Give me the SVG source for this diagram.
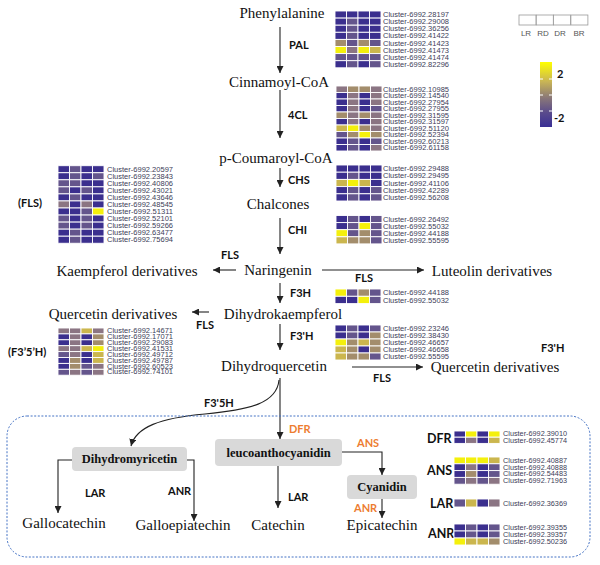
<svg xmlns="http://www.w3.org/2000/svg" width="600" height="565" viewBox="0 0 600 565">
<defs>
<style>
.m{font-family:"Liberation Serif","Times New Roman",Times,"DejaVu Serif",serif;font-size:15px;fill:#111;text-anchor:middle}
.e{font-family:Lato,"Liberation Sans",sans-serif;font-size:11px;font-weight:bold;fill:#111}
.e2{font-family:Lato,"Liberation Sans",sans-serif;font-size:12.5px;font-weight:bold;fill:#111}
.o{fill:#ed7d31}
.b{font-family:"Liberation Serif","Times New Roman",Times,"DejaVu Serif",serif;font-size:12.5px;font-weight:bold;fill:#111;text-anchor:middle}
.c{font-family:"Liberation Sans",Arial,sans-serif;font-size:7px;fill:#3d3d58}
.hm rect{stroke:#fff;stroke-width:0.9}
.D{fill:#3b2f8e}.P{fill:#64558c}.M{fill:#8b7583}.T{fill:#a38d6c}.O{fill:#cbb64e}.Y{fill:#f4f00c}
.ln{fill:none;stroke:#222;stroke-width:1.1}
.bx{fill:#d9d9d9}
.lg{font-family:"Liberation Sans",Arial,sans-serif;font-size:8px;fill:#555;text-anchor:middle}
</style>
<marker id="ah" viewBox="0 0 10 10" refX="10" refY="5" markerWidth="7" markerHeight="7" orient="auto" markerUnits="userSpaceOnUse"><path d="M0,0 L10,5 L0,10 z" fill="#222"/></marker>
<linearGradient id="cb" x1="0" y1="0" x2="0" y2="1">
<stop offset="0" stop-color="#ffff00"/><stop offset="0.3" stop-color="#c9b555"/><stop offset="0.55" stop-color="#8a7878"/><stop offset="0.78" stop-color="#5a4b8c"/><stop offset="1" stop-color="#3a2f95"/>
</linearGradient>
</defs>
<rect width="600" height="565" fill="#fff"/>

<!-- Legend -->
<g id="legend">
<rect x="519" y="15" width="17" height="10" fill="#fff" stroke="#999" stroke-width="0.8"/>
<rect x="536.3" y="15" width="17" height="10" fill="#fff" stroke="#999" stroke-width="0.8"/>
<rect x="553.6" y="15" width="17" height="10" fill="#fff" stroke="#999" stroke-width="0.8"/>
<rect x="570.9" y="15" width="17" height="10" fill="#fff" stroke="#999" stroke-width="0.8"/>
<text class="lg" x="526" y="36">LR</text><text class="lg" x="543" y="36">RD</text><text class="lg" x="560" y="36">DR</text><text class="lg" x="579" y="36">BR</text>
<rect x="540" y="62" width="12" height="65" fill="url(#cb)"/>
<path d="M540 79h3M549 79h3M540 95h3M549 95h3M540 111h3M549 111h3" stroke="#fff" stroke-width="1"/>
<text x="557" y="78" font-family="Lato,'Liberation Sans',sans-serif" font-size="11" font-weight="bold" fill="#111">2</text>
<text x="554" y="122" font-family="Lato,'Liberation Sans',sans-serif" font-size="11" font-weight="bold" fill="#111">-2</text>
</g>

<!-- Connectors -->
<g id="connectors">
<line class="ln" x1="280" y1="27" x2="280" y2="73" marker-end="url(#ah)"/>
<line class="ln" x1="280" y1="90" x2="280" y2="138" marker-end="url(#ah)"/>
<line class="ln" x1="280" y1="168" x2="280" y2="187" marker-end="url(#ah)"/>
<line class="ln" x1="280" y1="218" x2="280" y2="254" marker-end="url(#ah)"/>
<line class="ln" x1="236" y1="270" x2="213" y2="270" marker-end="url(#ah)"/>
<line class="ln" x1="322" y1="270" x2="424" y2="270" marker-end="url(#ah)"/>
<line class="ln" x1="280" y1="283" x2="280" y2="303" marker-end="url(#ah)"/>
<line class="ln" x1="209" y1="312" x2="192" y2="312" marker-end="url(#ah)"/>
<line class="ln" x1="280" y1="324" x2="280" y2="350" marker-end="url(#ah)"/>
<line class="ln" x1="352" y1="367" x2="423" y2="367" stroke="#555" marker-end="url(#ah)"/>
<line class="ln" x1="280" y1="378" x2="280" y2="439" marker-end="url(#ah)"/>
<path class="ln" d="M279 380 C277 403,250 410,205 414 C160 418,136 427,131 446" marker-end="url(#ah)"/>
<path class="ln" d="M72 460 H58 V513" marker-end="url(#ah)"/>
<path class="ln" d="M187 460 H194 V521" marker-end="url(#ah)"/>
<line class="ln" x1="278" y1="466" x2="278" y2="508" marker-end="url(#ah)"/>
<path class="ln" d="M342 452 H382 V475" marker-end="url(#ah)"/>
<line class="ln" x1="382" y1="499" x2="382" y2="518" marker-end="url(#ah)"/>
<rect x="7" y="416" width="583" height="141" rx="20" fill="none" stroke="#4472c4" stroke-width="1" stroke-dasharray="2,1.6"/>
</g>

<!-- Enzyme labels -->
<g id="enzymes">
<text class="e" x="289" y="49">PAL</text>
<text class="e" x="288" y="119">4CL</text>
<text class="e" x="288" y="184">CHS</text>
<text class="e" x="288" y="234">CHI</text>
<text class="e" x="221" y="259">FLS</text>
<text class="e" x="355" y="282">FLS</text>
<text class="e" x="290" y="297">F3H</text>
<text class="e" x="196" y="329">FLS</text>
<text class="e" x="290" y="340">F3'H</text>
<text class="e" x="373" y="382">FLS</text>
<text class="e" x="541" y="352">F3'H</text>
<text class="e" x="18" y="207">(FLS)</text>
<text class="e" x="8" y="356">(F3’5’H)</text>
<text class="e" x="204" y="407">F3'5H</text>
<text class="e o" x="289" y="433">DFR</text>
<text class="e o" x="357" y="447">ANS</text>
<text class="e o" x="354" y="512">ANR</text>
<text class="e" x="85" y="497">LAR</text>
<text class="e" x="168" y="495">ANR</text>
<text class="e" x="288" y="501">LAR</text>
<text class="e2" x="427" y="443">DFR</text>
<text class="e2" x="427" y="475">ANS</text>
<text class="e2" x="430" y="508">LAR</text>
<text class="e2" x="428" y="538">ANR</text>
</g>

<!-- Compounds -->
<g id="phenylalanine"><text class="m" x="282" y="18">Phenylalanine</text></g>
<g id="cinnamoyl"><text class="m" x="279" y="87">Cinnamoyl-CoA</text></g>
<g id="coumaroyl"><text class="m" x="276" y="163">p-Coumaroyl-CoA</text></g>
<g id="chalcones"><text class="m" x="278" y="209">Chalcones</text></g>
<g id="naringenin"><text class="m" x="278" y="275">Naringenin</text></g>
<g id="kaempferol"><text class="m" x="127" y="276">Kaempferol  derivatives</text></g>
<g id="luteolin"><text class="m" x="492" y="276">Luteolin  derivatives</text></g>
<g id="dihydrokaempferol"><text class="m" x="283" y="319">Dihydrokaempferol</text></g>
<g id="quercetin-left"><text class="m" x="113" y="319">Quercetin  derivatives</text></g>
<g id="dihydroquercetin"><text class="m" x="274" y="371">Dihydroquercetin</text></g>
<g id="quercetin-right"><text class="m" x="495" y="372">Quercetin derivatives</text></g>
<g id="dihydromyricetin"><rect class="bx" x="72" y="447" width="115" height="24" rx="4"/><text class="b" x="129.5" y="463">Dihydromyricetin</text></g>
<g id="leucoanthocyanidin"><rect class="bx" x="215" y="439" width="127" height="27" rx="4"/><text class="b" x="278.5" y="457">leucoanthocyanidin</text></g>
<g id="cyanidin"><rect class="bx" x="347" y="475" width="70" height="24" rx="4"/><text class="b" x="382" y="491">Cyanidin</text></g>
<g id="gallocatechin"><text class="m" x="64" y="528">Gallocatechin</text></g>
<g id="galloepiatechin"><text class="m" x="183" y="530">Galloepiatechin</text></g>
<g id="catechin"><text class="m" x="278" y="530">Catechin</text></g>
<g id="epicatechin"><text class="m" x="382" y="530">Epicatechin</text></g>

<!-- Heatmaps -->
<g id="hm-pal" class="hm" transform="translate(335,11)">
<rect x="0" y="0" width="11.5" height="7.1" class="D"/><rect x="11.5" y="0" width="11.5" height="7.1" class="D"/><rect x="23" y="0" width="11.5" height="7.1" class="D"/><rect x="34.5" y="0" width="11.5" height="7.1" class="D"/>
<rect x="0" y="7.1" width="11.5" height="7.1" class="D"/><rect x="11.5" y="7.1" width="11.5" height="7.1" class="P"/><rect x="23" y="7.1" width="11.5" height="7.1" class="D"/><rect x="34.5" y="7.1" width="11.5" height="7.1" class="D"/>
<rect x="0" y="14.2" width="11.5" height="7.1" class="D"/><rect x="11.5" y="14.2" width="11.5" height="7.1" class="P"/><rect x="23" y="14.2" width="11.5" height="7.1" class="D"/><rect x="34.5" y="14.2" width="11.5" height="7.1" class="D"/>
<rect x="0" y="21.3" width="11.5" height="7.1" class="D"/><rect x="11.5" y="21.3" width="11.5" height="7.1" class="P"/><rect x="23" y="21.3" width="11.5" height="7.1" class="D"/><rect x="34.5" y="21.3" width="11.5" height="7.1" class="D"/>
<rect x="0" y="28.4" width="11.5" height="7.1" class="T"/><rect x="11.5" y="28.4" width="11.5" height="7.1" class="P"/><rect x="23" y="28.4" width="11.5" height="7.1" class="T"/><rect x="34.5" y="28.4" width="11.5" height="7.1" class="P"/>
<rect x="0" y="35.5" width="11.5" height="7.1" class="Y"/><rect x="11.5" y="35.5" width="11.5" height="7.1" class="M"/><rect x="23" y="35.5" width="11.5" height="7.1" class="Y"/><rect x="34.5" y="35.5" width="11.5" height="7.1" class="O"/>
<rect x="0" y="42.6" width="11.5" height="7.1" class="P"/><rect x="11.5" y="42.6" width="11.5" height="7.1" class="P"/><rect x="23" y="42.6" width="11.5" height="7.1" class="P"/><rect x="34.5" y="42.6" width="11.5" height="7.1" class="P"/>
<rect x="0" y="49.7" width="11.5" height="7.1" class="D"/><rect x="11.5" y="49.7" width="11.5" height="7.1" class="P"/><rect x="23" y="49.7" width="11.5" height="7.1" class="D"/><rect x="34.5" y="49.7" width="11.5" height="7.1" class="P"/>
<text class="c" x="48" y="6.1" textLength="66" lengthAdjust="spacingAndGlyphs">Cluster-6992.28197</text>
<text class="c" x="48" y="13.2" textLength="66" lengthAdjust="spacingAndGlyphs">Cluster-6992.29008</text>
<text class="c" x="48" y="20.3" textLength="66" lengthAdjust="spacingAndGlyphs">Cluster-6992.36256</text>
<text class="c" x="48" y="27.4" textLength="66" lengthAdjust="spacingAndGlyphs">Cluster-6992.41422</text>
<text class="c" x="48" y="34.5" textLength="66" lengthAdjust="spacingAndGlyphs">Cluster-6992.41423</text>
<text class="c" x="48" y="41.6" textLength="66" lengthAdjust="spacingAndGlyphs">Cluster-6992.41473</text>
<text class="c" x="48" y="48.7" textLength="66" lengthAdjust="spacingAndGlyphs">Cluster-6992.41474</text>
<text class="c" x="48" y="55.8" textLength="66" lengthAdjust="spacingAndGlyphs">Cluster-6992.82296</text>
</g>

<g id="hm-4cl" class="hm" transform="translate(336,86)">
<rect x="0" y="0" width="11.5" height="6.5" class="M"/><rect x="11.5" y="0" width="11.5" height="6.5" class="T"/><rect x="23" y="0" width="11.5" height="6.5" class="T"/><rect x="34.5" y="0" width="11.5" height="6.5" class="M"/>
<rect x="0" y="6.5" width="11.5" height="6.5" class="D"/><rect x="11.5" y="6.5" width="11.5" height="6.5" class="M"/><rect x="23" y="6.5" width="11.5" height="6.5" class="D"/><rect x="34.5" y="6.5" width="11.5" height="6.5" class="M"/>
<rect x="0" y="13" width="11.5" height="6.5" class="D"/><rect x="11.5" y="13" width="11.5" height="6.5" class="M"/><rect x="23" y="13" width="11.5" height="6.5" class="D"/><rect x="34.5" y="13" width="11.5" height="6.5" class="M"/>
<rect x="0" y="19.5" width="11.5" height="6.5" class="D"/><rect x="11.5" y="19.5" width="11.5" height="6.5" class="M"/><rect x="23" y="19.5" width="11.5" height="6.5" class="D"/><rect x="34.5" y="19.5" width="11.5" height="6.5" class="P"/>
<rect x="0" y="26" width="11.5" height="6.5" class="T"/><rect x="11.5" y="26" width="11.5" height="6.5" class="M"/><rect x="23" y="26" width="11.5" height="6.5" class="T"/><rect x="34.5" y="26" width="11.5" height="6.5" class="M"/>
<rect x="0" y="32.5" width="11.5" height="6.5" class="D"/><rect x="11.5" y="32.5" width="11.5" height="6.5" class="M"/><rect x="23" y="32.5" width="11.5" height="6.5" class="D"/><rect x="34.5" y="32.5" width="11.5" height="6.5" class="M"/>
<rect x="0" y="39" width="11.5" height="6.5" class="O"/><rect x="11.5" y="39" width="11.5" height="6.5" class="Y"/><rect x="23" y="39" width="11.5" height="6.5" class="T"/><rect x="34.5" y="39" width="11.5" height="6.5" class="M"/>
<rect x="0" y="45.5" width="11.5" height="6.5" class="P"/><rect x="11.5" y="45.5" width="11.5" height="6.5" class="T"/><rect x="23" y="45.5" width="11.5" height="6.5" class="Y"/><rect x="34.5" y="45.5" width="11.5" height="6.5" class="T"/>
<rect x="0" y="52" width="11.5" height="6.5" class="D"/><rect x="11.5" y="52" width="11.5" height="6.5" class="P"/><rect x="23" y="52" width="11.5" height="6.5" class="D"/><rect x="34.5" y="52" width="11.5" height="6.5" class="P"/>
<rect x="0" y="58.5" width="11.5" height="6.5" class="D"/><rect x="11.5" y="58.5" width="11.5" height="6.5" class="P"/><rect x="23" y="58.5" width="11.5" height="6.5" class="D"/><rect x="34.5" y="58.5" width="11.5" height="6.5" class="M"/>
<text class="c" x="47" y="5.7" textLength="66" lengthAdjust="spacingAndGlyphs" font-size="6.5">Cluster-6992.10985</text>
<text class="c" x="47" y="12.2" textLength="66" lengthAdjust="spacingAndGlyphs" font-size="6.5">Cluster-6992.14540</text>
<text class="c" x="47" y="18.7" textLength="66" lengthAdjust="spacingAndGlyphs" font-size="6.5">Cluster-6992.27954</text>
<text class="c" x="47" y="25.2" textLength="66" lengthAdjust="spacingAndGlyphs" font-size="6.5">Cluster-6992.27955</text>
<text class="c" x="47" y="31.7" textLength="66" lengthAdjust="spacingAndGlyphs" font-size="6.5">Cluster-6992.31595</text>
<text class="c" x="47" y="38.2" textLength="66" lengthAdjust="spacingAndGlyphs" font-size="6.5">Cluster-6992.31597</text>
<text class="c" x="47" y="44.7" textLength="66" lengthAdjust="spacingAndGlyphs" font-size="6.5">Cluster-6992.51120</text>
<text class="c" x="47" y="51.2" textLength="66" lengthAdjust="spacingAndGlyphs" font-size="6.5">Cluster-6992.52394</text>
<text class="c" x="47" y="57.7" textLength="66" lengthAdjust="spacingAndGlyphs" font-size="6.5">Cluster-6992.60213</text>
<text class="c" x="47" y="64.2" textLength="66" lengthAdjust="spacingAndGlyphs" font-size="6.5">Cluster-6992.61158</text>
</g>

<g id="hm-chs" class="hm" transform="translate(336,165)">
<rect x="0" y="0" width="11.5" height="7.2" class="D"/><rect x="11.5" y="0" width="11.5" height="7.2" class="D"/><rect x="23" y="0" width="11.5" height="7.2" class="D"/><rect x="34.5" y="0" width="11.5" height="7.2" class="D"/>
<rect x="0" y="7.2" width="11.5" height="7.2" class="D"/><rect x="11.5" y="7.2" width="11.5" height="7.2" class="P"/><rect x="23" y="7.2" width="11.5" height="7.2" class="D"/><rect x="34.5" y="7.2" width="11.5" height="7.2" class="D"/>
<rect x="0" y="14.4" width="11.5" height="7.2" class="O"/><rect x="11.5" y="14.4" width="11.5" height="7.2" class="Y"/><rect x="23" y="14.4" width="11.5" height="7.2" class="O"/><rect x="34.5" y="14.4" width="11.5" height="7.2" class="D"/>
<rect x="0" y="21.6" width="11.5" height="7.2" class="D"/><rect x="11.5" y="21.6" width="11.5" height="7.2" class="P"/><rect x="23" y="21.6" width="11.5" height="7.2" class="D"/><rect x="34.5" y="21.6" width="11.5" height="7.2" class="P"/>
<rect x="0" y="28.8" width="11.5" height="7.2" class="D"/><rect x="11.5" y="28.8" width="11.5" height="7.2" class="P"/><rect x="23" y="28.8" width="11.5" height="7.2" class="D"/><rect x="34.5" y="28.8" width="11.5" height="7.2" class="P"/>
<text class="c" x="47" y="6.1" textLength="66" lengthAdjust="spacingAndGlyphs">Cluster-6992.29488</text>
<text class="c" x="47" y="13.3" textLength="66" lengthAdjust="spacingAndGlyphs">Cluster-6992.29495</text>
<text class="c" x="47" y="20.5" textLength="66" lengthAdjust="spacingAndGlyphs">Cluster-6992.41106</text>
<text class="c" x="47" y="27.7" textLength="66" lengthAdjust="spacingAndGlyphs">Cluster-6992.42289</text>
<text class="c" x="47" y="34.9" textLength="66" lengthAdjust="spacingAndGlyphs">Cluster-6992.56208</text>
</g>

<g id="hm-chi" class="hm" transform="translate(336,215.5)">
<rect x="0" y="0" width="11.5" height="7.1" class="D"/><rect x="11.5" y="0" width="11.5" height="7.1" class="P"/><rect x="23" y="0" width="11.5" height="7.1" class="D"/><rect x="34.5" y="0" width="11.5" height="7.1" class="P"/>
<rect x="0" y="7.1" width="11.5" height="7.1" class="D"/><rect x="11.5" y="7.1" width="11.5" height="7.1" class="P"/><rect x="23" y="7.1" width="11.5" height="7.1" class="Y"/><rect x="34.5" y="7.1" width="11.5" height="7.1" class="P"/>
<rect x="0" y="14.2" width="11.5" height="7.1" class="Y"/><rect x="11.5" y="14.2" width="11.5" height="7.1" class="P"/><rect x="23" y="14.2" width="11.5" height="7.1" class="T"/><rect x="34.5" y="14.2" width="11.5" height="7.1" class="P"/>
<rect x="0" y="21.3" width="11.5" height="7.1" class="O"/><rect x="11.5" y="21.3" width="11.5" height="7.1" class="T"/><rect x="23" y="21.3" width="11.5" height="7.1" class="T"/><rect x="34.5" y="21.3" width="11.5" height="7.1" class="P"/>
<text class="c" x="47" y="6.1" textLength="66" lengthAdjust="spacingAndGlyphs">Cluster-6992.26492</text>
<text class="c" x="47" y="13.2" textLength="66" lengthAdjust="spacingAndGlyphs">Cluster-6992.55032</text>
<text class="c" x="47" y="20.3" textLength="66" lengthAdjust="spacingAndGlyphs">Cluster-6992.44188</text>
<text class="c" x="47" y="27.4" textLength="66" lengthAdjust="spacingAndGlyphs">Cluster-6992.55595</text>
</g>

<g id="hm-fls" class="hm" transform="translate(58,165.7)">
<rect x="0" y="0" width="11.5" height="7.05" class="D"/><rect x="11.5" y="0" width="11.5" height="7.05" class="P"/><rect x="23" y="0" width="11.5" height="7.05" class="D"/><rect x="34.5" y="0" width="11.5" height="7.05" class="D"/>
<rect x="0" y="7.05" width="11.5" height="7.05" class="D"/><rect x="11.5" y="7.05" width="11.5" height="7.05" class="P"/><rect x="23" y="7.05" width="11.5" height="7.05" class="D"/><rect x="34.5" y="7.05" width="11.5" height="7.05" class="P"/>
<rect x="0" y="14.1" width="11.5" height="7.05" class="P"/><rect x="11.5" y="14.1" width="11.5" height="7.05" class="P"/><rect x="23" y="14.1" width="11.5" height="7.05" class="D"/><rect x="34.5" y="14.1" width="11.5" height="7.05" class="D"/>
<rect x="0" y="21.15" width="11.5" height="7.05" class="P"/><rect x="11.5" y="21.15" width="11.5" height="7.05" class="D"/><rect x="23" y="21.15" width="11.5" height="7.05" class="P"/><rect x="34.5" y="21.15" width="11.5" height="7.05" class="D"/>
<rect x="0" y="28.2" width="11.5" height="7.05" class="D"/><rect x="11.5" y="28.2" width="11.5" height="7.05" class="P"/><rect x="23" y="28.2" width="11.5" height="7.05" class="D"/><rect x="34.5" y="28.2" width="11.5" height="7.05" class="D"/>
<rect x="0" y="35.25" width="11.5" height="7.05" class="M"/><rect x="11.5" y="35.25" width="11.5" height="7.05" class="D"/><rect x="23" y="35.25" width="11.5" height="7.05" class="M"/><rect x="34.5" y="35.25" width="11.5" height="7.05" class="D"/>
<rect x="0" y="42.3" width="11.5" height="7.05" class="D"/><rect x="11.5" y="42.3" width="11.5" height="7.05" class="D"/><rect x="23" y="42.3" width="11.5" height="7.05" class="P"/><rect x="34.5" y="42.3" width="11.5" height="7.05" class="Y"/>
<rect x="0" y="49.35" width="11.5" height="7.05" class="P"/><rect x="11.5" y="49.35" width="11.5" height="7.05" class="D"/><rect x="23" y="49.35" width="11.5" height="7.05" class="P"/><rect x="34.5" y="49.35" width="11.5" height="7.05" class="D"/>
<rect x="0" y="56.4" width="11.5" height="7.05" class="P"/><rect x="11.5" y="56.4" width="11.5" height="7.05" class="D"/><rect x="23" y="56.4" width="11.5" height="7.05" class="P"/><rect x="34.5" y="56.4" width="11.5" height="7.05" class="D"/>
<rect x="0" y="63.45" width="11.5" height="7.05" class="D"/><rect x="11.5" y="63.45" width="11.5" height="7.05" class="P"/><rect x="23" y="63.45" width="11.5" height="7.05" class="D"/><rect x="34.5" y="63.45" width="11.5" height="7.05" class="D"/>
<rect x="0" y="70.5" width="11.5" height="7.05" class="D"/><rect x="11.5" y="70.5" width="11.5" height="7.05" class="P"/><rect x="23" y="70.5" width="11.5" height="7.05" class="D"/><rect x="34.5" y="70.5" width="11.5" height="7.05" class="D"/>
<text class="c" x="49" y="6.1" textLength="66" lengthAdjust="spacingAndGlyphs">Cluster-6992.20597</text>
<text class="c" x="49" y="13.2" textLength="66" lengthAdjust="spacingAndGlyphs">Cluster-6992.23843</text>
<text class="c" x="49" y="20.2" textLength="66" lengthAdjust="spacingAndGlyphs">Cluster-6992.40806</text>
<text class="c" x="49" y="27.3" textLength="66" lengthAdjust="spacingAndGlyphs">Cluster-6992.43021</text>
<text class="c" x="49" y="34.3" textLength="66" lengthAdjust="spacingAndGlyphs">Cluster-6992.43646</text>
<text class="c" x="49" y="41.4" textLength="66" lengthAdjust="spacingAndGlyphs">Cluster-6992.48545</text>
<text class="c" x="49" y="48.4" textLength="66" lengthAdjust="spacingAndGlyphs">Cluster-6992.51311</text>
<text class="c" x="49" y="55.5" textLength="66" lengthAdjust="spacingAndGlyphs">Cluster-6992.52101</text>
<text class="c" x="49" y="62.5" textLength="66" lengthAdjust="spacingAndGlyphs">Cluster-6992.59266</text>
<text class="c" x="49" y="69.6" textLength="66" lengthAdjust="spacingAndGlyphs">Cluster-6992.63477</text>
<text class="c" x="49" y="76.6" textLength="66" lengthAdjust="spacingAndGlyphs">Cluster-6992.75694</text>
</g>

<g id="hm-f3h" class="hm" transform="translate(335,289)">
<rect x="0" y="0" width="11.5" height="7.3" class="Y"/><rect x="11.5" y="0" width="11.5" height="7.3" class="P"/><rect x="23" y="0" width="11.5" height="7.3" class="T"/><rect x="34.5" y="0" width="11.5" height="7.3" class="P"/>
<rect x="0" y="7.3" width="11.5" height="7.3" class="D"/><rect x="11.5" y="7.3" width="11.5" height="7.3" class="D"/><rect x="23" y="7.3" width="11.5" height="7.3" class="Y"/><rect x="34.5" y="7.3" width="11.5" height="7.3" class="P"/>
<text class="c" x="48" y="6.2" textLength="66" lengthAdjust="spacingAndGlyphs">Cluster-6992.44188</text>
<text class="c" x="48" y="13.5" textLength="66" lengthAdjust="spacingAndGlyphs">Cluster-6992.55032</text>
</g>

<g id="hm-f3ph" class="hm" transform="translate(335,325)">
<rect x="0" y="0" width="11.5" height="7" class="D"/><rect x="11.5" y="0" width="11.5" height="7" class="P"/><rect x="23" y="0" width="11.5" height="7" class="D"/><rect x="34.5" y="0" width="11.5" height="7" class="P"/>
<rect x="0" y="7" width="11.5" height="7" class="D"/><rect x="11.5" y="7" width="11.5" height="7" class="P"/><rect x="23" y="7" width="11.5" height="7" class="D"/><rect x="34.5" y="7" width="11.5" height="7" class="T"/>
<rect x="0" y="14" width="11.5" height="7" class="Y"/><rect x="11.5" y="14" width="11.5" height="7" class="T"/><rect x="23" y="14" width="11.5" height="7" class="O"/><rect x="34.5" y="14" width="11.5" height="7" class="T"/>
<rect x="0" y="21" width="11.5" height="7" class="O"/><rect x="11.5" y="21" width="11.5" height="7" class="T"/><rect x="23" y="21" width="11.5" height="7" class="D"/><rect x="34.5" y="21" width="11.5" height="7" class="T"/>
<rect x="0" y="28" width="11.5" height="7" class="O"/><rect x="11.5" y="28" width="11.5" height="7" class="T"/><rect x="23" y="28" width="11.5" height="7" class="T"/><rect x="34.5" y="28" width="11.5" height="7" class="P"/>
<text class="c" x="48" y="6" textLength="66" lengthAdjust="spacingAndGlyphs">Cluster-6992.23246</text>
<text class="c" x="48" y="13" textLength="66" lengthAdjust="spacingAndGlyphs">Cluster-6992.38430</text>
<text class="c" x="48" y="20" textLength="66" lengthAdjust="spacingAndGlyphs">Cluster-6992.46657</text>
<text class="c" x="48" y="27" textLength="66" lengthAdjust="spacingAndGlyphs">Cluster-6992.46658</text>
<text class="c" x="48" y="34" textLength="66" lengthAdjust="spacingAndGlyphs">Cluster-6992.55595</text>
</g>

<g id="hm-f35h" class="hm" transform="translate(58,328)">
<rect x="0" y="0" width="11.5" height="5.9" class="M"/><rect x="11.5" y="0" width="11.5" height="5.9" class="M"/><rect x="23" y="0" width="11.5" height="5.9" class="O"/><rect x="34.5" y="0" width="11.5" height="5.9" class="M"/>
<rect x="0" y="5.9" width="11.5" height="5.9" class="D"/><rect x="11.5" y="5.9" width="11.5" height="5.9" class="M"/><rect x="23" y="5.9" width="11.5" height="5.9" class="D"/><rect x="34.5" y="5.9" width="11.5" height="5.9" class="T"/>
<rect x="0" y="11.8" width="11.5" height="5.9" class="D"/><rect x="11.5" y="11.8" width="11.5" height="5.9" class="M"/><rect x="23" y="11.8" width="11.5" height="5.9" class="D"/><rect x="34.5" y="11.8" width="11.5" height="5.9" class="T"/>
<rect x="0" y="17.7" width="11.5" height="5.9" class="M"/><rect x="11.5" y="17.7" width="11.5" height="5.9" class="M"/><rect x="23" y="17.7" width="11.5" height="5.9" class="O"/><rect x="34.5" y="17.7" width="11.5" height="5.9" class="Y"/>
<rect x="0" y="23.6" width="11.5" height="5.9" class="P"/><rect x="11.5" y="23.6" width="11.5" height="5.9" class="M"/><rect x="23" y="23.6" width="11.5" height="5.9" class="D"/><rect x="34.5" y="23.6" width="11.5" height="5.9" class="O"/>
<rect x="0" y="29.5" width="11.5" height="5.9" class="D"/><rect x="11.5" y="29.5" width="11.5" height="5.9" class="T"/><rect x="23" y="29.5" width="11.5" height="5.9" class="D"/><rect x="34.5" y="29.5" width="11.5" height="5.9" class="O"/>
<rect x="0" y="35.4" width="11.5" height="5.9" class="D"/><rect x="11.5" y="35.4" width="11.5" height="5.9" class="T"/><rect x="23" y="35.4" width="11.5" height="5.9" class="P"/><rect x="34.5" y="35.4" width="11.5" height="5.9" class="M"/>
<rect x="0" y="41.3" width="11.5" height="5.9" class="P"/><rect x="11.5" y="41.3" width="11.5" height="5.9" class="M"/><rect x="23" y="41.3" width="11.5" height="5.9" class="P"/><rect x="34.5" y="41.3" width="11.5" height="5.9" class="M"/>
<text class="c" x="49" y="5.1" textLength="66" lengthAdjust="spacingAndGlyphs" font-size="5.9">Cluster-6992.14671</text>
<text class="c" x="49" y="11" textLength="66" lengthAdjust="spacingAndGlyphs" font-size="5.9">Cluster-6992.17071</text>
<text class="c" x="49" y="16.9" textLength="66" lengthAdjust="spacingAndGlyphs" font-size="5.9">Cluster-6992.29083</text>
<text class="c" x="49" y="22.8" textLength="66" lengthAdjust="spacingAndGlyphs" font-size="5.9">Cluster-6992.41531</text>
<text class="c" x="49" y="28.7" textLength="66" lengthAdjust="spacingAndGlyphs" font-size="5.9">Cluster-6992.49712</text>
<text class="c" x="49" y="34.6" textLength="66" lengthAdjust="spacingAndGlyphs" font-size="5.9">Cluster-6992.49787</text>
<text class="c" x="49" y="40.5" textLength="66" lengthAdjust="spacingAndGlyphs" font-size="5.9">Cluster-6992.60523</text>
<text class="c" x="49" y="46.4" textLength="66" lengthAdjust="spacingAndGlyphs" font-size="5.9">Cluster-6992.74101</text>
</g>

<g id="hm-dfr" class="hm" transform="translate(454,431)">
<rect x="0" y="0" width="11.5" height="6.2" class="D"/><rect x="11.5" y="0" width="11.5" height="6.2" class="Y"/><rect x="23" y="0" width="11.5" height="6.2" class="D"/><rect x="34.5" y="0" width="11.5" height="6.2" class="Y"/>
<rect x="0" y="6.2" width="11.5" height="6.2" class="D"/><rect x="11.5" y="6.2" width="11.5" height="6.2" class="M"/><rect x="23" y="6.2" width="11.5" height="6.2" class="D"/><rect x="34.5" y="6.2" width="11.5" height="6.2" class="O"/>
<text class="c" x="49" y="5.4" textLength="64" lengthAdjust="spacingAndGlyphs" font-size="6.2">Cluster-6992.39010</text>
<text class="c" x="49" y="11.6" textLength="64" lengthAdjust="spacingAndGlyphs" font-size="6.2">Cluster-6992.45774</text>
</g>

<g id="hm-ans" class="hm" transform="translate(454,457)">
<rect x="0" y="0" width="11.5" height="6.8" class="Y"/><rect x="11.5" y="0" width="11.5" height="6.8" class="Y"/><rect x="23" y="0" width="11.5" height="6.8" class="Y"/><rect x="34.5" y="0" width="11.5" height="6.8" class="O"/>
<rect x="0" y="6.8" width="11.5" height="6.8" class="D"/><rect x="11.5" y="6.8" width="11.5" height="6.8" class="M"/><rect x="23" y="6.8" width="11.5" height="6.8" class="D"/><rect x="34.5" y="6.8" width="11.5" height="6.8" class="P"/>
<rect x="0" y="13.6" width="11.5" height="6.8" class="D"/><rect x="11.5" y="13.6" width="11.5" height="6.8" class="T"/><rect x="23" y="13.6" width="11.5" height="6.8" class="D"/><rect x="34.5" y="13.6" width="11.5" height="6.8" class="P"/>
<rect x="0" y="20.4" width="11.5" height="6.8" class="P"/><rect x="11.5" y="20.4" width="11.5" height="6.8" class="M"/><rect x="23" y="20.4" width="11.5" height="6.8" class="P"/><rect x="34.5" y="20.4" width="11.5" height="6.8" class="M"/>
<text class="c" x="49" y="5.8" textLength="64" lengthAdjust="spacingAndGlyphs" font-size="6.8">Cluster-6992.40887</text>
<text class="c" x="49" y="12.6" textLength="64" lengthAdjust="spacingAndGlyphs" font-size="6.8">Cluster-6992.40888</text>
<text class="c" x="49" y="19.4" textLength="64" lengthAdjust="spacingAndGlyphs" font-size="6.8">Cluster-6992.54483</text>
<text class="c" x="49" y="26.2" textLength="64" lengthAdjust="spacingAndGlyphs" font-size="6.8">Cluster-6992.71963</text>
</g>

<g id="hm-lar" class="hm" transform="translate(454,499)">
<rect x="0" y="0" width="11.5" height="8" class="P"/><rect x="11.5" y="0" width="11.5" height="8" class="O"/><rect x="23" y="0" width="11.5" height="8" class="D"/><rect x="34.5" y="0" width="11.5" height="8" class="M"/>
<text class="c" x="49" y="6.6" textLength="64" lengthAdjust="spacingAndGlyphs" font-size="7.4">Cluster-6992.36369</text>
</g>

<g id="hm-anr" class="hm" transform="translate(454,524)">
<rect x="0" y="0" width="11.5" height="7" class="D"/><rect x="11.5" y="0" width="11.5" height="7" class="P"/><rect x="23" y="0" width="11.5" height="7" class="D"/><rect x="34.5" y="0" width="11.5" height="7" class="P"/>
<rect x="0" y="7" width="11.5" height="7" class="D"/><rect x="11.5" y="7" width="11.5" height="7" class="P"/><rect x="23" y="7" width="11.5" height="7" class="D"/><rect x="34.5" y="7" width="11.5" height="7" class="P"/>
<rect x="0" y="14" width="11.5" height="7" class="Y"/><rect x="11.5" y="14" width="11.5" height="7" class="O"/><rect x="23" y="14" width="11.5" height="7" class="O"/><rect x="34.5" y="14" width="11.5" height="7" class="T"/>
<text class="c" x="49" y="6" textLength="64" lengthAdjust="spacingAndGlyphs">Cluster-6992.39355</text>
<text class="c" x="49" y="13" textLength="64" lengthAdjust="spacingAndGlyphs">Cluster-6992.39357</text>
<text class="c" x="49" y="20" textLength="64" lengthAdjust="spacingAndGlyphs">Cluster-6992.50236</text>
</g>
</svg>
